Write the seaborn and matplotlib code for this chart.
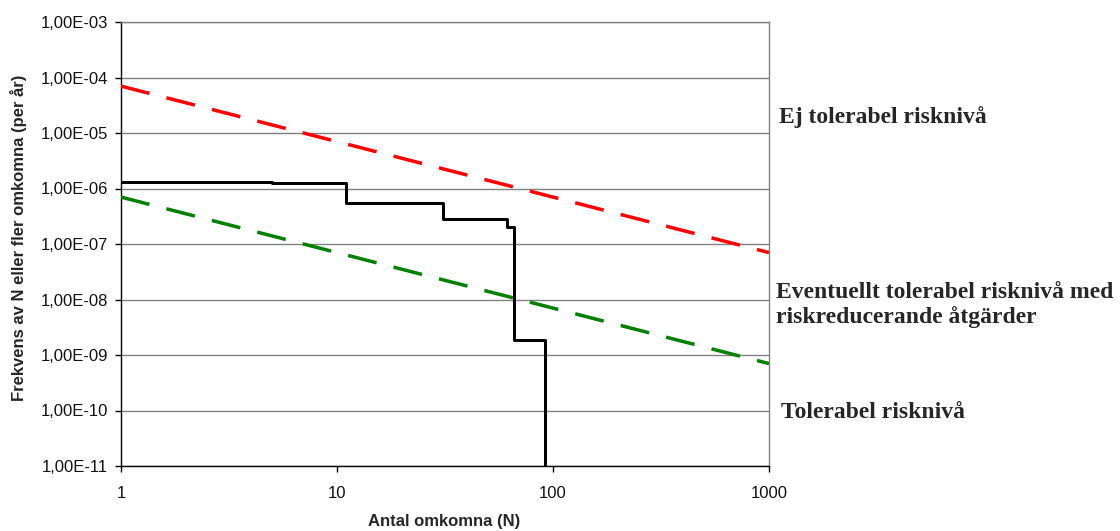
import numpy as np
import pandas as pd
import matplotlib
matplotlib.use("Agg")
import matplotlib.pyplot as plt
import matplotlib.ticker as mticker
import seaborn as sns

# Data
fn_N = [1, 5, 11, 31, 61, 66, 92]
fn_F = [1.33e-6, 1.25e-6, 5.4e-7, 2.8e-7, 2.05e-7, 1.86e-9, 1e-13]
crit_N = [1, 1000]
upper_F = [7.0e-5, 7.0e-8]
lower_F = [7.0e-7, 7.0e-10]
y_ticks = [1e-11, 1e-10, 1e-9, 1e-8, 1e-7, 1e-6, 1e-5, 1e-4, 1e-3]
x_ticks = [1, 10, 100, 1000]
zone_labels = ["Ej tolerabel risknivå",
               "Eventuellt tolerabel risknivå med\nriskreducerande åtgärder",
               "Tolerabel risknivå"]

sns.set_theme(style="white")
plt.rcParams['font.family'] = ['Liberation Sans', 'DejaVu Sans']

fig = plt.figure(figsize=(11.2, 5.31), dpi=100)
ax = fig.add_axes([121/1120, 65/531, (769-121)/1120, (466-22)/531])

ax.set_xscale("log")
ax.set_yscale("log")

for yt in y_ticks:
    ax.axhline(yt, color="#808080", lw=1.0, zorder=0)

lw = 3.5 * 0.72
sns.lineplot(x=crit_N, y=upper_F, ax=ax, color="#ff0000", lw=lw,
             linestyle=(0, (8.4, 5.0)), zorder=3)
sns.lineplot(x=crit_N, y=lower_F, ax=ax, color="#008000", lw=lw,
             linestyle=(0, (8.4, 5.0)), zorder=3)
sns.lineplot(x=fn_N, y=fn_F, ax=ax, color="black", lw=3*0.72,
             drawstyle="steps-post", zorder=4, sort=False)

ax.set_xlim(1, 1000)
ax.set_ylim(1e-11, 1e-3)
ax.set_yticks(y_ticks)
ax.set_xticks(x_ticks)
ax.yaxis.set_minor_locator(mticker.NullLocator())
ax.xaxis.set_minor_locator(mticker.NullLocator())
ax.set_yticklabels([("%.2E" % v).replace(".", ",") for v in y_ticks])
ax.set_xticklabels([str(v) for v in x_ticks])
ax.tick_params(axis="both", which="major", direction="out", length=4.5, width=1,
               color="black", labelsize=12, labelcolor="#111111", left=True, bottom=True)
ax.tick_params(axis="y", pad=5)
ax.tick_params(axis="x", pad=10)

for s in ["left", "bottom"]:
    ax.spines[s].set_color("black")
    ax.spines[s].set_linewidth(1.0)
for s in ["top", "right"]:
    ax.spines[s].set_color("#808080")
    ax.spines[s].set_linewidth(1.0)

ax.set_xlabel("Antal omkomna (N)", fontsize=12, fontweight="bold")
ax.xaxis.set_label_coords((444 - 121) / 648, -(514 - 466) / 444)
ax.set_ylabel("Frekvens av N eller fler omkomna (per år)", fontsize=12, fontweight="bold")
ax.yaxis.set_label_coords((27 - 121) / 648, (466 - 238) / 444)

serif = ['Liberation Serif', 'DejaVu Serif']
fig.text(779/1120, 1 - 117/531, zone_labels[0], family=serif, fontsize=17,
         fontweight="bold", va="center", ha="left")
fig.text(776/1120, 1 - 305/531, zone_labels[1], family=serif, fontsize=17,
         fontweight="bold", va="center", ha="left", linespacing=1.2)
fig.text(781/1120, 1 - 412/531, zone_labels[2], family=serif, fontsize=17,
         fontweight="bold", va="center", ha="left")

fig.savefig("out.png", dpi=100)
